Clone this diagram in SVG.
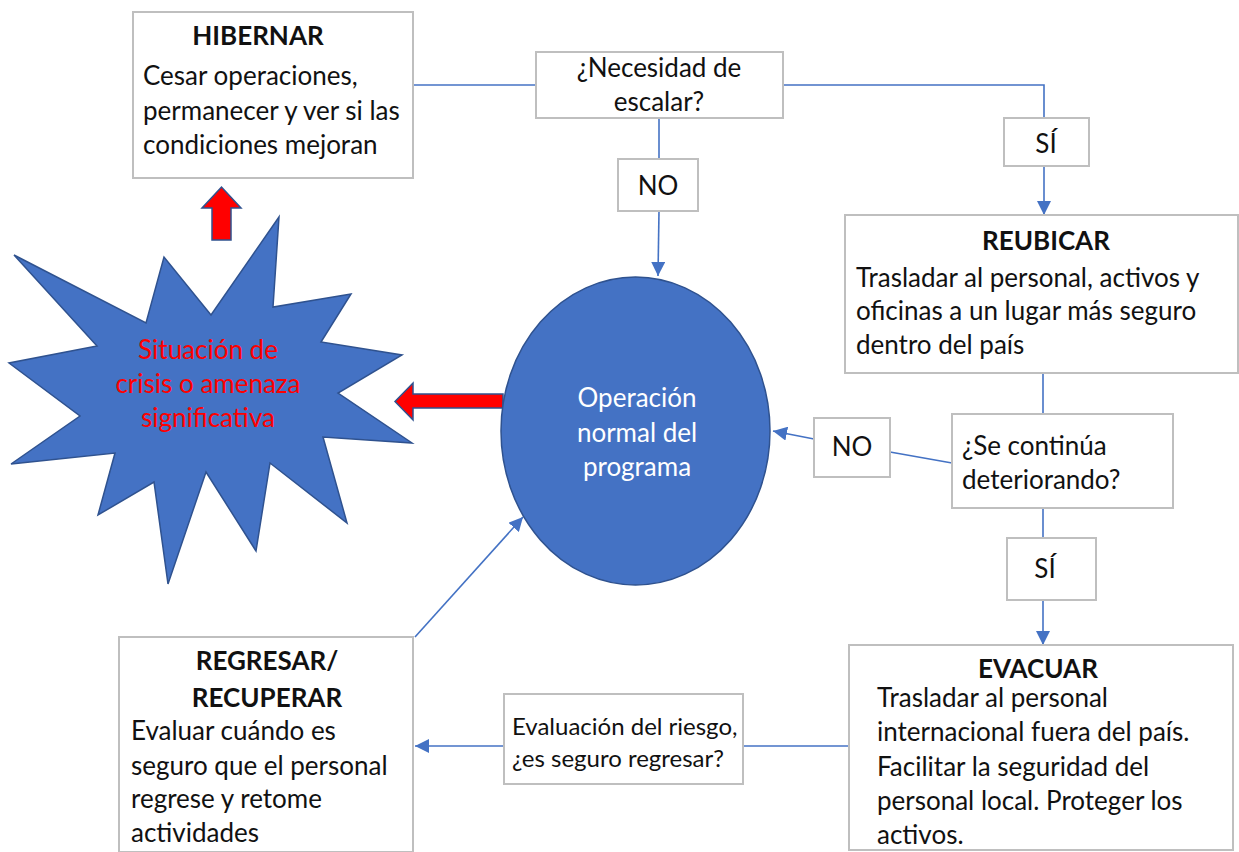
<svg xmlns="http://www.w3.org/2000/svg" width="1239" height="852" viewBox="0 0 1239 852">
<defs>
<style>
.box{fill:#fff;stroke:#BFBFBF;stroke-width:2}
.t{font-family:Lato,"Open Sans",sans-serif;font-size:26px;fill:#111}
.s{font-size:24px}
.b{font-weight:bold}
.c{text-anchor:middle}
.w{fill:#fff}
.r{fill:#FF0000}
.ln{fill:none;stroke:#4472C4;stroke-width:1.6}
.red{fill:#FF0000;stroke:#2F528F;stroke-width:1.5}
</style>
<marker id="ahb" viewBox="0 0 10 10" refX="10" refY="5" markerWidth="14" markerHeight="14" markerUnits="userSpaceOnUse" orient="auto">
<path d="M0,0 L10,5 L0,10 z" fill="#4472C4"/>
</marker>
</defs>
<rect width="1239" height="852" fill="#fff"/>

<g id="connectors">
<line class="ln" x1="413" y1="85" x2="536" y2="85"/>
<polyline class="ln" points="783,85 1044,85 1044,118"/>
<line class="ln" x1="1044" y1="166" x2="1044" y2="215" marker-end="url(#ahb)"/>
<line class="ln" x1="659" y1="118" x2="659" y2="159"/>
<line class="ln" x1="659" y1="211" x2="658" y2="276" marker-end="url(#ahb)"/>
<line class="ln" x1="1043" y1="373" x2="1043" y2="414"/>
<line class="ln" x1="952" y1="463" x2="890" y2="452"/>
<line class="ln" x1="814" y1="439" x2="773" y2="431" marker-end="url(#ahb)"/>
<line class="ln" x1="1043" y1="508" x2="1043" y2="538"/>
<line class="ln" x1="1043" y1="600" x2="1043" y2="645" marker-end="url(#ahb)"/>
<line class="ln" x1="849" y1="746" x2="743" y2="746"/>
<line class="ln" x1="504" y1="746" x2="415" y2="746" marker-end="url(#ahb)"/>
<line class="ln" x1="415" y1="637" x2="523" y2="517" marker-end="url(#ahb)"/>
</g>

<g id="hibernar">
<rect class="box" x="133" y="12" width="280" height="166"/>
<text class="t b c" x="258" y="45">HIBERNAR</text>
<text class="t" x="143" y="85">Cesar operaciones,</text>
<text class="t" x="143" y="120">permanecer y ver si las</text>
<text class="t" x="143" y="154">condiciones mejoran</text>
</g>

<g id="arrow-up">
<path class="red" d="M212,240 L212,208 L202,208 L221.5,187 L241,208 L231,208 L231,240 Z"/>
</g>

<g id="necesidad">
<rect class="box" x="536" y="52" width="247" height="66"/>
<text class="t c" x="659" y="77">¿Necesidad de</text>
<text class="t c" x="659" y="111">escalar?</text>
</g>

<g id="no-top">
<rect class="box" x="618" y="159" width="80" height="52"/>
<text class="t c" x="658" y="195">NO</text>
</g>

<g id="si-top">
<rect class="box" x="1004" y="118" width="85" height="48"/>
<text class="t c" x="1046" y="153">SÍ</text>
</g>

<g id="reubicar">
<rect class="box" x="845" y="215" width="393" height="158"/>
<text class="t b c" x="1046" y="250">REUBICAR</text>
<text class="t" x="856" y="287">Trasladar al personal, activos y</text>
<text class="t" x="856" y="320">oficinas a un lugar más seguro</text>
<text class="t" x="856" y="354">dentro del país</text>
</g>

<g id="crisis">
<polygon fill="#4472C4" stroke="#2F528F" stroke-width="1.5" points="279,217 273,307 351,294 321,342 402,355 338,393 412,443 323,437 347,523 270,463 256,551 206,472 168,584 154,482 98,515 115,453 11,464 80,416 9,363 97,346 14,255 146,323 164,257 211,315"/>
<text class="t c r" x="208" y="359">Situación de</text>
<text class="t c r" x="208" y="393">crisis o amenaza</text>
<text class="t c r" x="208" y="427">significativa</text>
</g>

<g id="arrow-left">
<path class="red" d="M503,394 L413,394 L413,383 L395,401.5 L413,420 L413,408 L503,408 Z"/>
</g>

<g id="operacion">
<ellipse cx="635.5" cy="431" rx="134.5" ry="154" fill="#4472C4" stroke="#2F528F" stroke-width="1.5"/>
<text class="t c w" x="637" y="407">Operación</text>
<text class="t c w" x="637" y="442">normal del</text>
<text class="t c w" x="637" y="476">programa</text>
</g>

<g id="no-right">
<rect class="box" x="814" y="418" width="76" height="59"/>
<text class="t c" x="852" y="456">NO</text>
</g>

<g id="deteriorando">
<rect class="box" x="952" y="414" width="221" height="94"/>
<text class="t" x="962" y="455">¿Se continúa</text>
<text class="t" x="962" y="489">deteriorando?</text>
</g>

<g id="si-bottom">
<rect class="box" x="1007" y="538" width="89" height="62"/>
<text class="t c" x="1045" y="578">SÍ</text>
</g>

<g id="evacuar">
<rect class="box" x="849" y="645" width="384" height="205"/>
<text class="t b c" x="1038" y="678">EVACUAR</text>
<text class="t" x="877" y="707">Trasladar al personal</text>
<text class="t" x="877" y="741">internacional fuera del país.</text>
<text class="t" x="877" y="776">Facilitar la seguridad del</text>
<text class="t" x="877" y="810">personal local. Proteger los</text>
<text class="t" x="877" y="844">activos.</text>
</g>

<g id="evaluacion">
<rect class="box" x="504" y="694" width="239" height="90"/>
<text class="t s" x="512" y="735">Evaluación del riesgo,</text>
<text class="t s" x="512" y="767">¿es seguro regresar?</text>
</g>

<g id="regresar">
<rect class="box" x="119" y="637" width="294" height="215"/>
<text class="t b c" x="267" y="670">REGRESAR/</text>
<text class="t b c" x="267" y="707">RECUPERAR</text>
<text class="t" x="131" y="740">Evaluar cuándo es</text>
<text class="t" x="131" y="775">seguro que el personal</text>
<text class="t" x="131" y="808">regrese y retome</text>
<text class="t" x="131" y="842">actividades</text>
</g>
</svg>
